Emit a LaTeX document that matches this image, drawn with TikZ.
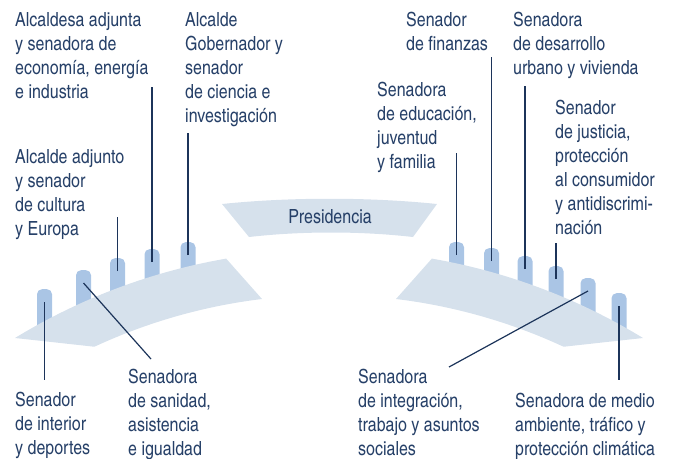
\documentclass[tikz,border=0pt]{standalone}
\usepackage{fontspec}
\setmainfont{texgyreheroscn-regular.otf}
\definecolor{mynavy}{RGB}{28,52,90}
\definecolor{mytext}{RGB}{38,64,104}
\definecolor{mybandcol}{RGB}{214,225,236}
\definecolor{mytabcol}{RGB}{170,197,229}
\usetikzlibrary{calc,positioning}

\begin{document}
\begin{tikzpicture}[
  x=1pt, y=-1pt,
  mylabel/.style={
    anchor=base west,
    align=left,
    inner sep=0pt,
    text=mytext,
    font=\fontsize{19.5}{24}\selectfont
    },
  mytab/.style={fill=mytabcol, rounded corners=5pt, anchor=north, minimum width=15pt, inner sep=0pt},
  myband/.style={fill=mybandcol},
  myline/.style={draw=mynavy, line width=1.2pt}
]
\useasboundingbox (0,0) rectangle (674,458);

\foreach \x/\t/\b/\n in {44.5/289/332/L1, 83.5/270/312/L2, 117.5/258/298/L3, 152/249/287/L4, 188/242/277/L5,
  456.5/242/274/R1, 491.5/248/282/R2, 525/256/293/R3, 556/266/304/R4, 588/278/319/R5, 619/293/335/R6}
  \node [mytab, minimum height={\b-\t}] (\n) at (\x,\t) {};

\fill [myband] (15,338) arc[start angle=-121.4, end angle=-99.8, radius=602] -- (262,299)
  arc[start angle=-96.9, end angle=-114.9, radius=557] -- cycle;
\fill [myband] (643,338) arc[start angle=-58.6, end angle=-80.2, radius=602] -- (396,299)
  arc[start angle=-83.1, end angle=-65.1, radius=557] -- cycle;
\fill [myband] (222,204) .. controls (290,197) and (369,197) .. (437,204) -- (413,237)
  .. controls (360,231) and (302,231) .. (249,237) -- cycle;

\node [mylabel, anchor=center] (presidencia) at (330,217) {Presidencia};

% anchor base = last line
\node [mylabel] (economia) at (15,98) {Alcaldesa adjunta\\y senadora de\\economía, energía\\e industria};
\node [mylabel] (ciencia) at (185,122) {Alcalde\\Gobernador y\\senador\\de ciencia e\\investigación};
\node [mylabel] (cultura) at (15,235) {Alcalde adjunto\\y senador\\de cultura\\y Europa};
\node [mylabel] (interior) at (15,454) {Senador\\de interior\\y deportes};
\node [mylabel] (sanidad) at (128,455) {Senadora\\de sanidad,\\asistencia\\e igualdad};

\node [mylabel] (finanzas) at (406,50) {Senador\\de finanzas};
\node [mylabel] (desarrollo) at (513,74) {Senadora\\de desarrollo\\urbano y vivienda};
\node [mylabel] (educacion) at (377,168) {Senadora\\de educación,\\juventud\\y familia};
\node [mylabel] (justicia) at (555,234) {Senador\\de justicia,\\protección\\al consumidor\\y antidiscrimi-\\nación};
\node [mylabel] (integracion) at (358,455) {Senadora\\de integración,\\trabajo y asuntos\\sociales};
\node [mylabel] (medio) at (515,455) {Senadora de medio\\ambiente, tráfico y\\protección climática};

\coordinate (cL1) at (0,380);
\coordinate (cL2) at (151,359);
\coordinate (cL3) at (0,217);
\coordinate (cL4) at (0,87);
\coordinate (cL5) at (0,133);
\coordinate (cR1) at (0,153);
\coordinate (cR2) at (0,57);
\coordinate (cR3) at (0,86);
\coordinate (cR4) at (0,243);
\coordinate (cR5) at (449,367);
\coordinate (cR6) at (0,380);

\draw [myline] ([yshift=-13pt]L1.north) -- (L1.north |- cL1);
\draw [myline] ([yshift=-13pt]L2.north) -- (cL2);
\draw [myline] ([yshift=-13pt]L3.north) -- (L3.north |- cL3);
\draw [myline] ([yshift=-13pt]L4.north) -- (L4.north |- cL4);
\draw [myline] ([yshift=-13pt]L5.north) -- (L5.north |- cL5);
\draw [myline] ([yshift=-13pt]R1.north) -- (R1.north |- cR1);
\draw [myline] ([yshift=-13pt]R2.north) -- (R2.north |- cR2);
\draw [myline] ([yshift=-13pt]R3.north) -- (R3.north |- cR3);
\draw [myline] ([yshift=-13pt]R4.north) -- (R4.north |- cR4);
\draw [myline] ([yshift=-13pt]R5.north) -- (cR5);
\draw [myline] ([yshift=-13pt]R6.north) -- (R6.north |- cR6);

\end{tikzpicture}
\end{document}
